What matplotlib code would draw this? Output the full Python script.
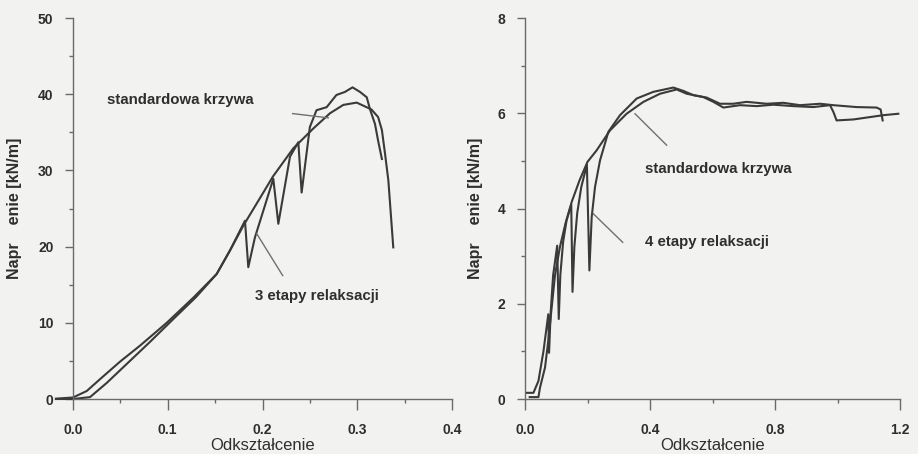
import matplotlib
matplotlib.use('Agg')
import matplotlib.pyplot as plt
from matplotlib.ticker import MultipleLocator

plt.rcParams['font.family'] = ['Liberation Sans', 'DejaVu Sans']

# Left panel: standard curve vs 3 relaxation steps
std_left_x = [-0.018, 0.0, 0.0145, 0.0285, 0.0496, 0.0707, 0.0989, 0.127, 0.1516, 0.1657, 0.18, 0.197,
              0.211, 0.2325, 0.2536, 0.2712, 0.2853, 0.2994, 0.315, 0.322, 0.326, 0.3293, 0.3328, 0.338]
std_left_y = [0.05, 0.2, 1.05, 2.6, 4.9, 7.0, 10.0, 13.3, 16.4, 19.5, 22.8, 26.3,
              29.2, 32.9, 35.5, 37.5, 38.6, 38.9, 38.0, 37.0, 35.3, 32.2, 28.7, 19.9]

rel_left_x = [-0.018, 0.0, 0.018, 0.0355, 0.0567, 0.0813, 0.1059, 0.13, 0.1516, 0.1657, 0.1815, 0.185,
              0.192, 0.2114, 0.2167, 0.229, 0.2378, 0.2413, 0.250, 0.257, 0.2677, 0.278, 0.287, 0.295,
              0.3029, 0.310, 0.3135, 0.3187, 0.322, 0.326]
rel_left_y = [0.0, 0.0, 0.25, 2.1, 4.6, 7.5, 10.5, 13.4, 16.4, 19.5, 23.4, 17.3,
              21.2, 28.9, 23.0, 31.8, 33.7, 27.1, 35.7, 37.9, 38.3, 39.9, 40.3, 40.9,
              40.3, 39.6, 38.0, 36.1, 33.9, 31.5]

# Right panel: standard curve vs 4 relaxation steps
std_right_x = [0.015, 0.043, 0.048, 0.064, 0.075, 0.085, 0.096, 0.112, 0.13, 0.15, 0.175, 0.2, 0.229,
               0.272, 0.325, 0.379, 0.432, 0.4854, 0.5173, 0.5707, 0.6027, 0.6347, 0.688, 0.7413,
               0.7947, 0.8587, 0.9227, 0.976, 0.9867, 0.997, 1.0507, 1.104, 1.1466, 1.1946]
std_right_y = [0.04, 0.04, 0.24, 0.66, 1.25, 1.9, 2.6, 3.2, 3.7, 4.15, 4.6, 4.98, 5.22,
               5.64, 5.99, 6.24, 6.41, 6.5, 6.41, 6.34, 6.24, 6.12, 6.17, 6.15,
               6.18, 6.15, 6.13, 6.17, 6.03, 5.85, 5.87, 5.92, 5.96, 5.99]

rel_right_x = [0.0, 0.027, 0.043, 0.059, 0.0745, 0.077, 0.082, 0.09, 0.103, 0.108, 0.113, 0.122, 0.133,
               0.148, 0.152, 0.158, 0.167, 0.18, 0.198, 0.206, 0.2134, 0.224, 0.24, 0.2667, 0.304,
               0.3574, 0.4106, 0.4746, 0.5067, 0.5387, 0.5813, 0.624, 0.6667, 0.7093, 0.7733, 0.8267,
               0.88, 0.944, 0.9867, 1.061, 1.125, 1.138, 1.1445]
rel_right_y = [0.13, 0.13, 0.38, 1.0, 1.78, 0.97, 1.8, 2.6, 3.22, 1.68, 2.6, 3.3, 3.75,
               4.08, 2.25, 3.2, 3.9, 4.45, 4.92, 2.7, 3.82, 4.45, 5.01, 5.61, 5.96,
               6.31, 6.45, 6.54, 6.47, 6.38, 6.33, 6.20, 6.20, 6.24, 6.2, 6.22,
               6.17, 6.2, 6.17, 6.13, 6.12, 6.08, 5.85]

x_label = 'Odkształcenie'
y_label = 'Napr    enie [kN/m]'

bg = '#f2f2f0'
line_col = '#3a3a3a'
axis_col = '#6a6a6a'
text_col = '#2e2e2e'

fig = plt.figure(figsize=(9.18, 4.54), dpi=100, facecolor=bg)
ax1 = fig.add_axes([0.0795, 0.1211, 0.4129, 0.8392], facecolor=bg)
ax2 = fig.add_axes([0.5719, 0.1211, 0.4085, 0.8392], facecolor=bg)


def style_axis(ax):
    for side in ['top', 'right']:
        ax.spines[side].set_visible(False)
    for side in ['left', 'bottom']:
        ax.spines[side].set_color(axis_col)
        ax.spines[side].set_linewidth(1.0)
    ax.tick_params(which='major', direction='out', length=6, width=1, color=axis_col,
                   labelsize=10, labelcolor=text_col)
    ax.tick_params(which='minor', direction='out', length=3, width=1, color=axis_col)
    ax.tick_params(axis='y', which='major', pad=8)
    ax.tick_params(axis='x', which='major', length=8, pad=9)
    for lab in ax.get_xticklabels() + ax.get_yticklabels():
        lab.set_fontweight('bold')
    ax.text(0.5, -0.122, x_label, transform=ax.transAxes, ha='center', va='center',
            fontsize=12, color=text_col)


# left chart
ax1.plot(std_left_x, std_left_y, color=line_col, lw=1.5, clip_on=False)
ax1.plot(rel_left_x, rel_left_y, color=line_col, lw=1.5, clip_on=False)
ax1.set_xlim(0, 0.4)
ax1.set_ylim(0, 50)
ax1.xaxis.set_major_locator(MultipleLocator(0.1))
ax1.xaxis.set_minor_locator(MultipleLocator(0.05))
ax1.yaxis.set_major_locator(MultipleLocator(10))
ax1.yaxis.set_minor_locator(MultipleLocator(5))
ax1.set_xticks([0.0, 0.1, 0.2, 0.3, 0.4], ['0.0', '0.1', '0.2', '0.3', '0.4'])
style_axis(ax1)
ax1.text(-0.154, 0.5, y_label, transform=ax1.transAxes, rotation=90, ha='center', va='center',
         fontsize=11.5, fontweight='bold', color=text_col)
ax1.text(0.036, 39.2, 'standardowa krzywa', ha='left', va='center', fontsize=10.8,
         fontweight='bold', color=text_col)
ax1.plot([0.2318, 0.2694], [37.46, 36.9], color='#707070', lw=1)
ax1.text(0.192, 13.55, '3 etapy relaksacji', ha='left', va='center', fontsize=10.8,
         fontweight='bold', color=text_col)
ax1.plot([0.1939, 0.2213], [21.7, 16.2], color='#707070', lw=1)

# right chart
ax2.plot(std_right_x, std_right_y, color=line_col, lw=1.5)
ax2.plot(rel_right_x, rel_right_y, color=line_col, lw=1.5)
ax2.set_xlim(0, 1.2)
ax2.set_ylim(0, 8)
ax2.xaxis.set_minor_locator(MultipleLocator(0.2))
ax2.yaxis.set_major_locator(MultipleLocator(2))
ax2.yaxis.set_minor_locator(MultipleLocator(1))
ax2.set_xticks([0.0, 0.4, 0.8, 1.2], ['0.0', '0.4', '0.8', '1.2'])
style_axis(ax2)
ax2.text(-0.133, 0.5, y_label, transform=ax2.transAxes, rotation=90, ha='center', va='center',
         fontsize=11.5, fontweight='bold', color=text_col)
ax2.text(0.384, 4.84, 'standardowa krzywa', ha='left', va='center', fontsize=10.8,
         fontweight='bold', color=text_col)
ax2.plot([0.352, 0.4533], [5.99, 5.33], color='#707070', lw=1)
ax2.text(0.384, 3.29, '4 etapy relaksacji', ha='left', va='center', fontsize=10.8,
         fontweight='bold', color=text_col)
ax2.plot([0.2186, 0.3126], [3.89, 3.29], color='#707070', lw=1)

fig.savefig('out.png', dpi=100, facecolor=bg)
